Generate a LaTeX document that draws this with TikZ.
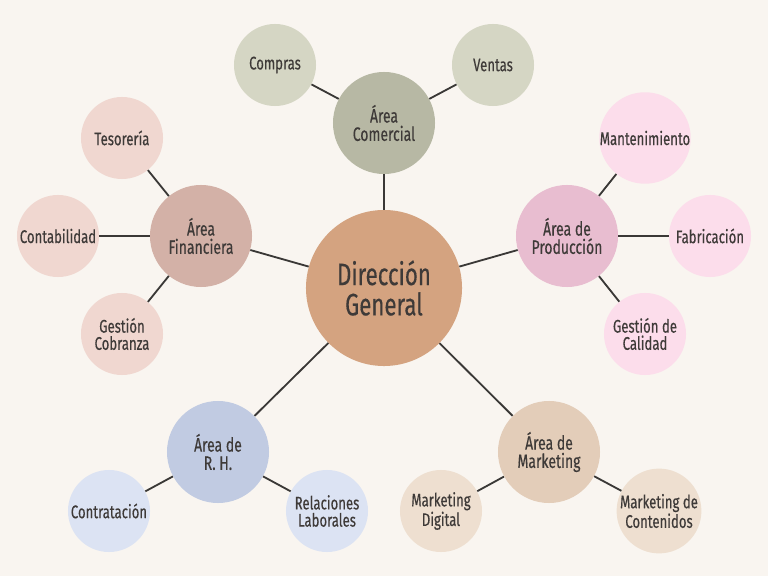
\documentclass[tikz,border=0pt]{standalone}
\usepackage{fontspec}
\setmainfont{Fira Sans}[FakeStretch=0.72, FakeBold=0.35]
\usetikzlibrary{positioning}
\definecolor{fondo}{RGB}{249,245,240}
\definecolor{tinta}{RGB}{62,58,56}
\definecolor{linea}{RGB}{58,56,54}
\definecolor{centro}{RGB}{212,163,128}
\definecolor{comercial}{RGB}{183,184,164}
\definecolor{comercialc}{RGB}{213,214,196}
\definecolor{finanzas}{RGB}{211,177,167}
\definecolor{finanzasc}{RGB}{240,215,208}
\definecolor{produccion}{RGB}{232,189,208}
\definecolor{produccionc}{RGB}{252,221,235}
\definecolor{rrhh}{RGB}{193,203,226}
\definecolor{rrhhc}{RGB}{220,227,243}
\definecolor{marketing}{RGB}{227,205,185}
\definecolor{marketingc}{RGB}{238,223,208}

\begin{document}
\begin{tikzpicture}[x=0.025cm, y=-0.025cm,
    circulo/.style={circle, inner sep=0pt, text=tinta, align=center},
    nucleo/.style={circulo, minimum size=3.9cm, font=\fontsize{22}{21.5}\selectfont},
    area/.style={circulo, minimum size=2.55cm, font=\fontsize{13.8}{13}\selectfont},
    hoja/.style={circulo, minimum size=2.05cm, font=\fontsize{13}{12.2}\selectfont},
    enlace/.style={draw=linea, line width=1.3pt}]
                \fill[fondo] (0,0) rectangle (768,576);
                \useasboundingbox (0,0) rectangle (768,576);
                \node[nucleo, fill=centro] (dir) at (384,288) {Dirección\\General};
                \node[area, fill=comercial] (com) at (384,123) {Área\\Comercial};
                \node[hoja, fill=comercialc] (compras) at (275,65) {Compras};
                \node[hoja, fill=comercialc] (ventas) at (493,65) {Ventas};
                \node[area, fill=finanzas] (fin) at (201,236) {Área\\Financiera};
                \node[hoja, fill=finanzasc] (teso) at (122,138) {Tesorería};
                \node[hoja, fill=finanzasc] (conta) at (58,236) {Contabilidad};
                \node[hoja, fill=finanzasc] (cobra) at (122,334) {Gestión\\Cobranza};
                \node[area, fill=produccion] (prod) at (567,236) {Área de\\Producción};
                \node[hoja, fill=produccionc] (mant) at (645,138) {Mantenimiento};
                \node[hoja, fill=produccionc] (fabr) at (710,236) {Fabricación};
                \node[hoja, fill=produccionc] (cali) at (645,334) {Gestión de\\Calidad};
                \node[area, fill=rrhh] (rh) at (218,452) {Área de\\R. H.};
                \node[hoja, fill=rrhhc] (contr) at (109,511) {Contratación};
                \node[hoja, fill=rrhhc] (relac) at (327,511) {Relaciones\\Laborales};
                \node[area, fill=marketing] (mkt) at (549,452) {Área de\\Marketing};
                \node[hoja, fill=marketingc] (digi) at (441,511) {Marketing\\Digital};
                \node[hoja, fill=marketingc] (conte) at (659,511) {Marketing de\\Contenidos};
                \draw[enlace] (dir) -- (com);
                \draw[enlace] (dir) -- (fin);
                \draw[enlace] (dir) -- (prod);
                \draw[enlace] (dir) -- (rh);
                \draw[enlace] (dir) -- (mkt);
                \draw[enlace] (com) -- (compras);
                \draw[enlace] (com) -- (ventas);
                \draw[enlace] (fin) -- (teso);
                \draw[enlace] (fin) -- (conta);
                \draw[enlace] (fin) -- (cobra);
                \draw[enlace] (prod) -- (mant);
                \draw[enlace] (prod) -- (fabr);
                \draw[enlace] (prod) -- (cali);
                \draw[enlace] (rh) -- (contr);
                \draw[enlace] (rh) -- (relac);
                \draw[enlace] (mkt) -- (digi);
                \draw[enlace] (mkt) -- (conte);
            \end{tikzpicture}
\end{document}
